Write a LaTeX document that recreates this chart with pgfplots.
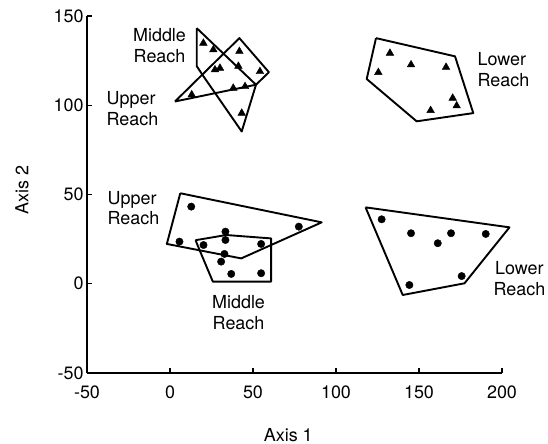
\documentclass[border=0pt]{standalone}
\usepackage{fontspec}
\setmainfont{TeX Gyre Heros}
\usepackage{pgfplots}
\pgfplotsset{compat=1.18}
\begin{document}
\begin{tikzpicture}[font=\fontsize{18}{21}\selectfont]
\useasboundingbox (-87bp,-71bp) rectangle (461bp,373bp);
\begin{axis}[
  at={(0,0)}, anchor=south west,
  scale only axis, width=415bp, height=357bp,
  xmin=-50, xmax=200, ymin=-50, ymax=150,
  axis lines=left, axis line style={-, line width=1.4bp},
  xtick={-50,0,50,100,150,200}, ytick={-50,0,50,100,150},
  tick align=inside, major tick length=5bp,
  tick style={line width=1.2bp, black},
  /pgf/number format/assume math mode=true,
  xticklabel style={yshift=-9bp},
  xlabel={Axis 1}, ylabel={Axis 2},
  x label style={at={(axis description cs:0.485,0)}, anchor=center, yshift=-62bp},
  y label style={at={(axis description cs:0,0.513)}, anchor=center, rotate=0, yshift=65bp},
  clip=false,
]
% polygons
\addplot[black, line width=1.9bp, line join=round, mark=none] coordinates {
 (16.1,143.2) (51.8,111.5) (43.2,85.3) (20.1,116.3) (16.1,121.9) (16.1,143.2)};
\addplot[black, line width=1.9bp, line join=round, mark=none] coordinates {
 (3.0,102.1) (41.8,137.6) (59.6,118.5) (51.8,111.5) (3.0,102.1)};
\addplot[black, line width=1.9bp, line join=round, mark=none] coordinates {
 (124.1,137.6) (171.7,127.4) (182.7,95.6) (148.6,91.0) (118.5,114.7) (124.1,137.6)};
\addplot[black, line width=1.9bp, line join=round, mark=none] coordinates {
 (6.2,50.7) (91.4,34.4) (42.9,14.2) (-1.9,22.3) (6.2,50.7)};
\addplot[black, line width=1.9bp, line join=round, mark=none] coordinates {
 (15.4,24.4) (33.9,27.3) (60.9,25.4) (60.9,1.2) (25.8,1.2) (17.8,18.9) (15.4,24.4)};
\addplot[black, line width=1.9bp, line join=round, mark=none] coordinates {
 (117.8,42.8) (204.5,31.6) (177.4,0.25) (140.2,-6.3) (117.8,42.8)};
% triangles
\addplot[only marks, mark=triangle*, mark size=4.4bp, black] coordinates {
 (20.1,134.8) (26.1,131.1) (41.8,130.2) (27.1,119.9) (30.1,120.8) (41.2,121.9)
 (54.2,118.9) (38.1,109.6) (45.2,110.5) (13.1,105.9) (43.2,95.6)};
\addplot[only marks, mark=triangle*, mark size=4.4bp, black] coordinates {
 (132.5,129.2) (125.5,118.4) (145.2,122.7) (166.3,121.3) (170.3,104.0) (172.7,99.7) (157.0,97.1)};
% circles
\addplot[only marks, mark=*, mark size=3.7bp, black] coordinates {
 (12.8,43.2) (5.7,23.6) (20.2,21.7) (33.4,29.2) (33.4,24.5) (32.8,16.7)
 (30.8,12.4) (36.9,5.5) (54.9,5.9) (54.9,22.3) (77.6,32.0)};
\addplot[only marks, mark=*, mark size=3.7bp, black] coordinates {
 (127.5,36.1) (145.2,28.3) (169.3,28.3) (161.3,22.7) (190.2,27.9) (175.7,4.3) (144.2,-0.7)};
% labels
\node[align=center, inner sep=0pt] at (axis cs:-6.3,133.2) {Middle\\Reach};
\node[align=left, anchor=west, inner sep=0pt] at (axis cs:-38.3,98.2) {Upper\\Reach};
\node[align=left, anchor=west, inner sep=0pt] at (axis cs:185.2,120.0) {Lower\\Reach};
\node[align=left, anchor=west, inner sep=0pt] at (axis cs:-37.7,42.4) {Upper\\Reach};
\node[align=center, inner sep=0pt] at (axis cs:41.3,-16.1) {Middle\\Reach};
\node[align=center, inner sep=0pt] at (axis cs:210.5,2.7) {Lower\\Reach};
\end{axis}
\end{tikzpicture}
\end{document}
